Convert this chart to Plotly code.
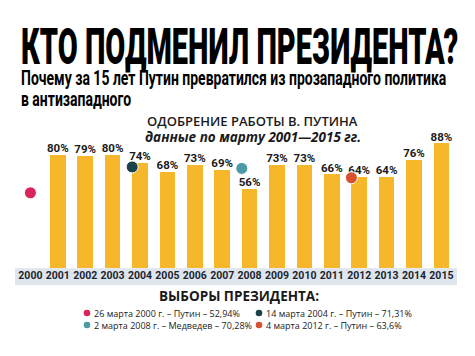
import plotly.graph_objects as go

# ---- data ----
years = [2000, 2001, 2002, 2003, 2004, 2005, 2006, 2007, 2008,
         2009, 2010, 2011, 2012, 2013, 2014, 2015]
bar_years = [2001, 2002, 2003, 2004, 2005, 2006, 2007, 2008,
             2009, 2010, 2011, 2012, 2013, 2014, 2015]
approval = [80, 79, 80, 74, 68, 73, 69, 56, 73, 73, 66, 64, 64, 76, 88]

election_years = [2000, 2004, 2008, 2012]
election_results = [52.94, 71.31, 70.28, 63.6]
election_colors = ["#d7245a", "#1b4248", "#4b9aa6", "#d7502f"]
election_labels = ["26 марта 2000 г. – Путин – 52,94%",
                   "14 марта 2004 г. – Путин – 71,31%",
                   "2 марта 2008 г. – Медведев – 70,28%",
                   "4 марта 2012 г. – Путин – 63,6%"]

title = "КТО ПОДМЕНИЛ ПРЕЗИДЕНТА?"
subtitle_lines = ["Почему за 15 лет Путин превратился из прозападного политика",
                  "в антизападного"]
chart_title = "ОДОБРЕНИЕ РАБОТЫ В. ПУТИНА"
chart_subtitle = "данные по марту 2001—2015 гг."
legend_title = "ВЫБОРЫ ПРЕЗИДЕНТА:"

# ---- styling ----
W, H = 475, 356
BAR_W = 0.57
NARROW = "Roboto, Liberation Sans, sans-serif"
SANS = "Open Sans, Noto Sans, sans-serif"
BAR_COLOR = "#f6b82a"

# pixel geometry used only to set the axes
x0_px, px_per_year = 30.4, 27.4
zero_px, px_per_pct = 267.5, 1.41
x_range = [2000 - x0_px / px_per_year, 2000 + (W - x0_px) / px_per_year]
y_range = [-(H - zero_px) / px_per_pct, zero_px / px_per_pct]

fig = go.Figure()

fig.add_trace(go.Bar(
    x=bar_years, y=approval, width=BAR_W,
    marker=dict(color=BAR_COLOR, line=dict(width=0)),
    hoverinfo="skip",
))

# value labels
fig.add_trace(go.Scatter(
    x=bar_years, y=approval, mode="text",
    text=[f"{v}%" for v in approval], textposition="top center",
    textfont=dict(family=NARROW, size=11.5, color="#1a1a1a", weight="bold"),
    hoverinfo="skip", cliponaxis=False,
))

# election dots: sit on the left edge of the bar of that year (if any)
dot_x = [y - BAR_W / 2 if y in bar_years else y for y in election_years]
fig.add_trace(go.Scatter(
    x=dot_x, y=election_results, mode="markers",
    marker=dict(size=12, color=election_colors, line=dict(color="white", width=1)),
    hoverinfo="skip", cliponaxis=False,
))

# year labels on a light strip
strip_top = -0.6
strip_bot = -(285 - zero_px) / px_per_pct
fig.add_shape(type="rect", xref="paper", yref="y",
              x0=15 / W, x1=457 / W, y0=strip_bot, y1=strip_top,
              fillcolor="#dfe5ec", line=dict(width=0), layer="below")
fig.add_trace(go.Scatter(
    x=years, y=[(strip_top + strip_bot) / 2] * len(years), mode="text",
    text=[str(y) for y in years], textposition="middle center",
    textfont=dict(family=NARROW, size=10.5, color="#1b2530", weight="bold"),
    hoverinfo="skip", cliponaxis=False,
))

annotations = []

def ann(text, x, y, size, family, xanchor="left", weight="normal", style="normal", color="#111"):
    annotations.append(dict(
        text=text, x=x / W, y=1 - y / H, xref="paper", yref="paper",
        xanchor=xanchor, yanchor="middle", showarrow=False, align="left",
        font=dict(family=family, size=size, color=color, weight=weight, style=style),
    ))

ann(title, 19, 47, 29, NARROW, weight=900, color="#000")            # 0
ann(subtitle_lines[0], 19, 78, 14, NARROW, weight="bold", color="#000")  # 1
ann(subtitle_lines[1], 19, 99, 14, NARROW, weight="bold", color="#000")  # 2
ann(chart_title, 252, 121, 13, SANS, xanchor="center", weight=600, color="#1a1a1a")
ann(chart_subtitle, 253, 137, 13.5, SANS, xanchor="center", weight="bold", style="italic", color="#1a1a1a")
ann(legend_title, 239, 296, 13.5, SANS, xanchor="center", weight="bold", color="#1a1a1a")

legend_pos = [(87, 313), (259, 313), (87, 325), (259, 325)]
r = 3.3
for (lx, ly), lab, col in zip(legend_pos, election_labels, election_colors):
    fig.add_shape(type="circle", xref="paper", yref="paper",
                  x0=(lx - r) / W, x1=(lx + r) / W,
                  y0=1 - (ly + r) / H, y1=1 - (ly - r) / H,
                  fillcolor=col, line=dict(width=0))
    ann(lab, lx + 5, ly, 9, SANS, color="#222")

fig.update_layout(
    width=W, height=H, margin=dict(l=0, r=0, t=0, b=0),
    paper_bgcolor="white", plot_bgcolor="white",
    showlegend=False, annotations=annotations,
    xaxis=dict(range=x_range, visible=False, fixedrange=True),
    yaxis=dict(range=y_range, visible=False, fixedrange=True),
    bargap=0,
)

# remove the page margin and give the headline its tall, condensed look
post = """
document.body.style.margin = '0';
var gd = document.getElementById('{plot_id}');
var t = gd.querySelectorAll('g.annotation text.annotation-text');
var sc = [1.75, 1.4, 1.4];
for (var i = 0; i < sc.length && i < t.length; i++) {
  t[i].style.transformBox = 'fill-box';
  t[i].style.transformOrigin = 'left center';
  t[i].style.transform = 'scaleY(' + sc[i] + ')';
}
"""

fig.write_html("out.html", config={"displayModeBar": False}, post_script=post)
